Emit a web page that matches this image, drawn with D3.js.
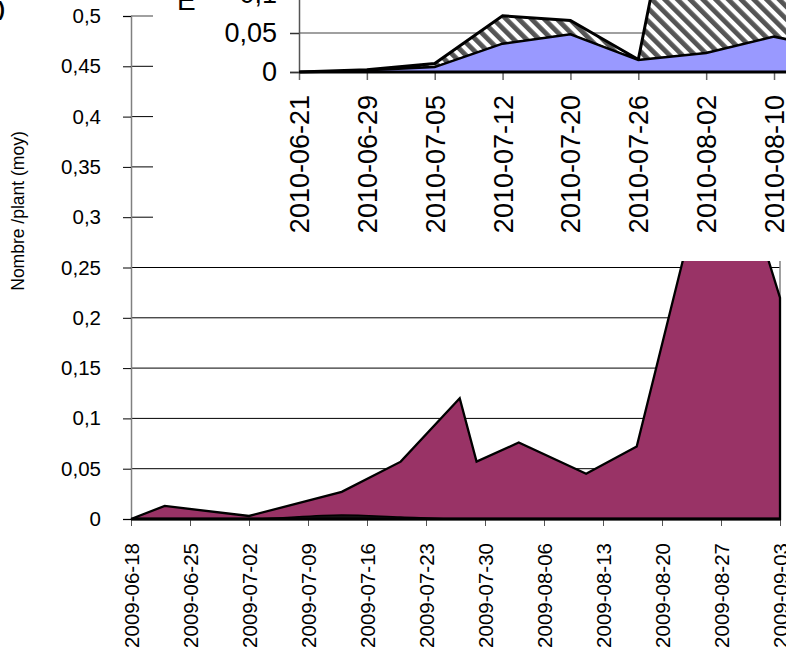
<!DOCTYPE html>
<html><head><meta charset="utf-8">
<script src="https://cdn.jsdelivr.net/npm/d3@7"></script>
<style>
body{margin:0;background:#fff}
svg{display:block;font-family:"Liberation Sans",Arial,sans-serif}
</style>
</head><body>
<svg id="c" width="786" height="657"></svg>
<script>
// ---- Main chart (2009) ----
const dates2009 = ["2009-06-18","2009-06-22","2009-07-02","2009-07-13","2009-07-20","2009-07-27","2009-07-29","2009-08-03","2009-08-11","2009-08-17","2009-08-27","2009-09-03"];
const values2009 = [0,0.013,0.003,0.027,0.057,0.12,0.057,0.076,0.045,0.072,0.41,0.22];
const minor2009 = [0,0,0,0.004,0.002,0,0,0,0,0,0,0];
const tickLabels2009 = ["2009-06-18","2009-06-25","2009-07-02","2009-07-09","2009-07-16","2009-07-23","2009-07-30","2009-08-06","2009-08-13","2009-08-20","2009-08-27","2009-09-03"];
const yTicks2009 = [0,0.05,0.1,0.15,0.2,0.25,0.3,0.35,0.4,0.45,0.5];
const yTitle = "Nombre /plant (moy)";

// ---- Inset chart (2010) ----
const cats2010 = ["2010-06-21","2010-06-29","2010-07-05","2010-07-12","2010-07-20","2010-07-26","2010-08-02","2010-08-10","2010-08-16"];
const blue2010 = [0,0.002,0.006,0.036,0.048,0.015,0.024,0.045,0.027];
const hatched2010 = [0,0.001,0.005,0.036,0.018,0.001,0.426,0.38,0.35];
const yTicks2010 = [0,0.05,0.1];

const parse = d3.utcParse("%Y-%m-%d");
const fmt = d => String(d).replace(".", ",");
const svg = d3.select("#c");
const FONT = "'Liberation Sans',Arial,sans-serif";

// defs: hatch pattern
const defs = svg.append("defs");
const pat = defs.append("pattern").attr("id","hatch").attr("patternUnits","userSpaceOnUse")
  .attr("width",9).attr("height",9).attr("patternTransform","rotate(-45)");
pat.append("rect").attr("width",9).attr("height",9).attr("fill","#fff");
pat.append("rect").attr("width",4.8).attr("height",9).attr("fill","#555");

// ---------- main scales ----------
const x = d3.scaleUtc().domain([parse(tickLabels2009[0]), parse(tickLabels2009[tickLabels2009.length-1])]).range([131, 780]);
const y = d3.scaleLinear().domain([0, 0.5]).range([519, 16]);

// gridlines
const g = svg.append("g");
g.selectAll("line.grid").data(yTicks2009.filter(v => v > 0 && v < 0.5)).join("line")
  .attr("x1",131).attr("x2",780).attr("y1",d=>y(d)).attr("y2",d=>y(d))
  .attr("stroke","#000").attr("stroke-width",1);
// plot border (top & right), gray
g.append("line").attr("x1",131).attr("x2",780).attr("y1",y(0.5)).attr("y2",y(0.5)).attr("stroke","#808080").attr("stroke-width",1.5);
g.append("line").attr("x1",780).attr("x2",780).attr("y1",y(0.5)).attr("y2",y(0)).attr("stroke","#808080").attr("stroke-width",1.5);

const data2009 = dates2009.map((d,i) => ({date: parse(d), v: values2009[i], m: minor2009[i]}));
const areaMain = d3.area().x(d => x(d.date)).y0(y(0)).y1(d => y(d.v));
g.append("path").datum(data2009).attr("d", areaMain)
  .attr("fill","#993366").attr("stroke","#000").attr("stroke-width",2.3).attr("stroke-linejoin","miter");
const areaMinor = d3.area().x(d => x(d.date)).y0(y(0)).y1(d => y(d.m)).curve(d3.curveMonotoneX);
g.append("path").datum(data2009).attr("d", areaMinor)
  .attr("fill","#111").attr("stroke","#000").attr("stroke-width",1.5);

// main y axis
const ya = svg.append("g").attr("transform","translate(131,0)")
  .call(d3.axisLeft(y).tickValues(yTicks2009).tickFormat(fmt).tickSize(8).tickPadding(22));
ya.select(".domain").attr("stroke","#808080").attr("stroke-width",1.5);
ya.selectAll(".tick line").attr("stroke","#000");
ya.selectAll("text").attr("font-size",20.5).attr("fill","#000").attr("font-family",FONT);

// main x axis
const xa = svg.append("g").attr("transform","translate(0,519)")
  .call(d3.axisBottom(x).tickValues(tickLabels2009.map(parse)).tickFormat(d3.utcFormat("%Y-%m-%d")).tickSize(7));
xa.select(".domain").remove();
xa.selectAll(".tick line").attr("stroke","#555");
xa.selectAll("text").attr("font-size",20.5).attr("fill","#000").attr("font-family",FONT)
  .attr("transform","rotate(-90)").attr("x",-24).attr("y",0).attr("dy","0.35em").style("text-anchor","end");
svg.append("line").attr("x1",131).attr("x2",781).attr("y1",519).attr("y2",519).attr("stroke","#000").attr("stroke-width",3);

// y title
svg.append("text").attr("transform","translate(24,211) rotate(-90)").attr("text-anchor","middle")
  .attr("font-size",17.5).attr("font-family",FONT).text(yTitle);

// panel letter (cropped)
svg.append("text").attr("x",5).attr("y",16).attr("text-anchor","end").attr("font-size",21).attr("font-weight","bold").attr("font-family",FONT).text("b)");

// ---------- inset ----------
const inset = svg.append("g");
inset.append("rect").attr("x",153).attr("y",0).attr("width",633).attr("height",261).attr("fill","#fff");
inset.append("text").attr("x",177).attr("y",10).attr("font-size",28).attr("font-family",FONT).text("E");

const xi = d3.scalePoint().domain(cats2010).range([299, 299 + 67.86*(cats2010.length-1)]);
const yi = d3.scaleLinear().domain([0, 0.1]).range([72, -6]);

inset.selectAll("line.ig").data(yTicks2010.filter(v => v > 0)).join("line")
  .attr("x1",299).attr("x2",786).attr("y1",d=>yi(d)).attr("y2",d=>yi(d))
  .attr("stroke","#808080").attr("stroke-width",1.5);

const stacked = cats2010.map((c,i) => ({c, b: blue2010[i], t: blue2010[i] + hatched2010[i]}));
inset.append("path").datum(stacked)
  .attr("d", d3.area().x(d => xi(d.c)).y0(d => yi(d.b)).y1(d => yi(d.t)))
  .attr("fill","url(#hatch)").attr("stroke","#000").attr("stroke-width",3).attr("stroke-linejoin","miter");
inset.append("path").datum(stacked)
  .attr("d", d3.area().x(d => xi(d.c)).y0(yi(0)).y1(d => yi(d.b)))
  .attr("fill","#9999ff").attr("stroke","#000").attr("stroke-width",2);

const yia = inset.append("g").attr("transform","translate(299,0)")
  .call(d3.axisLeft(yi).tickValues(yTicks2010).tickFormat(fmt).tickSize(9).tickPadding(13));
yia.select(".domain").attr("stroke","#555").attr("stroke-width",1.5);
yia.selectAll(".tick line").attr("stroke","#333").attr("stroke-width",1.5);
yia.selectAll("text").attr("font-size",27).attr("fill","#000").attr("font-family",FONT);

const xia = inset.append("g").attr("transform","translate(0,72)")
  .call(d3.axisBottom(xi).tickSize(8));
xia.select(".domain").remove();
xia.selectAll(".tick line").attr("stroke","#666").attr("stroke-width",1.5);
xia.selectAll("text").attr("font-size",27).attr("fill","#000").attr("font-family",FONT)
  .attr("transform","rotate(-90)").attr("x",-23).attr("y",0).attr("dy","0.35em").style("text-anchor","end");
inset.append("line").attr("x1",299).attr("x2",786).attr("y1",72).attr("y2",72).attr("stroke","#000").attr("stroke-width",3);
</script>
</body></html>
